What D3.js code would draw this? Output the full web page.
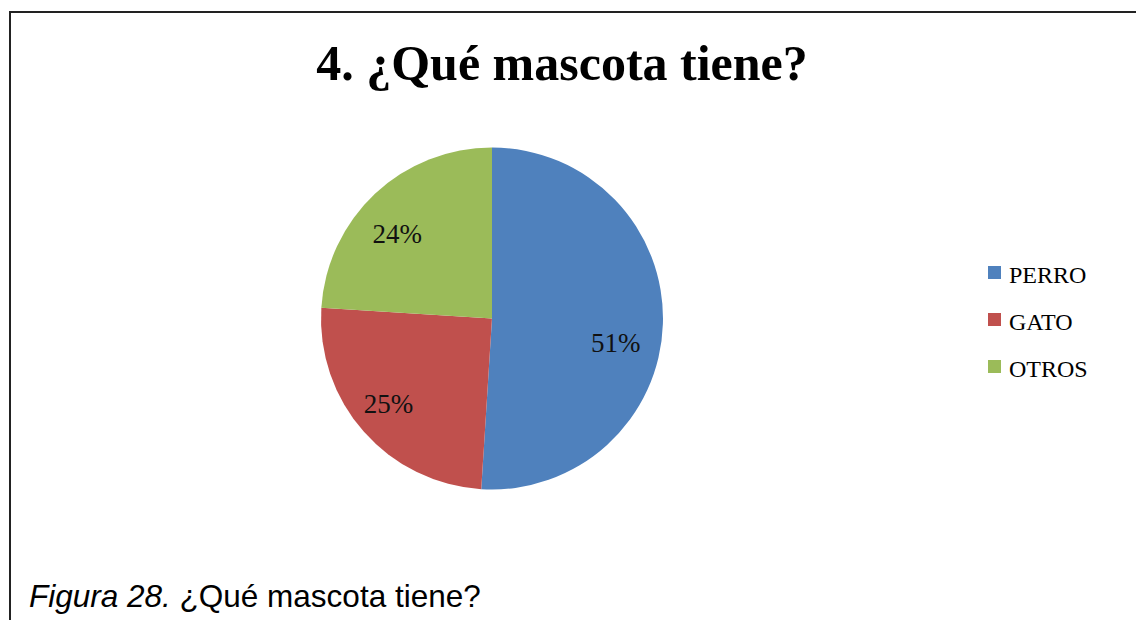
<!doctype html>
<html>
<head>
  <meta charset="utf-8">
  <script src="https://cdnjs.cloudflare.com/ajax/libs/d3/7.8.5/d3.min.js"></script>
  <style>
    body { margin: 0; background: white; }
    svg { display: block; }
  </style>
</head>
<body>
  <script>
    const categories = ['PERRO', 'GATO', 'OTROS'];
    const values = [51, 25, 24];
    const colors = ['#4F81BD', '#C0504D', '#9BBB59'];

    const width = 1136, height = 620;
    const cx = 492, cy = 318.5, radius = 171;
    const serif = "'Liberation Serif', 'DejaVu Serif', serif";

    const data = categories.map((c, i) => ({name: c, value: values[i], color: colors[i]}));

    const svg = d3.select('body').append('svg')
      .attr('width', width)
      .attr('height', height);

    // chart frame (only top and left edges show in the crop)
    svg.append('path')
      .attr('d', `M10,${height + 5} L10,12 L${width + 5},12`)
      .attr('fill', 'none')
      .attr('stroke', '#222')
      .attr('stroke-width', 2);

    svg.append('text')
      .attr('x', 562)
      .attr('y', 80)
      .attr('text-anchor', 'middle')
      .style('font-family', serif)
      .style('font-weight', 'bold')
      .style('font-size', '50px')
      .text('4. ¿Qué mascota tiene?');

    const pie = d3.pie().sort(null).value(d => d.value);
    const arc = d3.arc().innerRadius(0).outerRadius(radius);

    // excel "best fit" labels sit a bit off the mid angle
    const labelShift = [9, 2, -5];   // degrees
    const labelR = [126, 134, 127];

    const g = svg.append('g').attr('transform', `translate(${cx},${cy})`);

    const arcs = pie(data);

    g.selectAll('path.slice').data(arcs).enter().append('path')
      .attr('class', 'slice')
      .attr('d', arc)
      .attr('fill', d => d.data.color);

    g.selectAll('text.lbl').data(arcs).enter().append('text')
      .attr('class', 'lbl')
      .attr('transform', (d, i) => {
        const a = (d.startAngle + d.endAngle) / 2 + labelShift[i] * Math.PI / 180;
        return `translate(${labelR[i] * Math.sin(a)},${-labelR[i] * Math.cos(a)})`;
      })
      .attr('text-anchor', 'middle')
      .attr('dy', '0.35em')
      .style('font-family', serif)
      .style('font-size', '27px')
      .style('fill', '#111')
      .text(d => d.data.value + '%');

    const legend = svg.append('g').attr('transform', 'translate(988,266)');
    const item = legend.selectAll('g').data(data).enter().append('g')
      .attr('transform', (d, i) => `translate(0,${i * 47})`);
    item.append('rect')
      .attr('width', 13).attr('height', 13)
      .attr('fill', d => d.color);
    item.append('text')
      .attr('x', 21)
      .attr('y', 17)
      .style('font-family', serif)
      .style('font-size', '24px')
      .text(d => d.name);

    const cap = svg.append('text')
      .attr('x', 29)
      .attr('y', 607)
      .style('font-family', "'Liberation Sans', Arial, sans-serif")
      .style('font-size', '31.5px');
    cap.append('tspan').style('font-style', 'italic').text('Figura 28.');
    cap.append('tspan').text(' ¿Qué mascota tiene?');
  </script>
</body>
</html>
